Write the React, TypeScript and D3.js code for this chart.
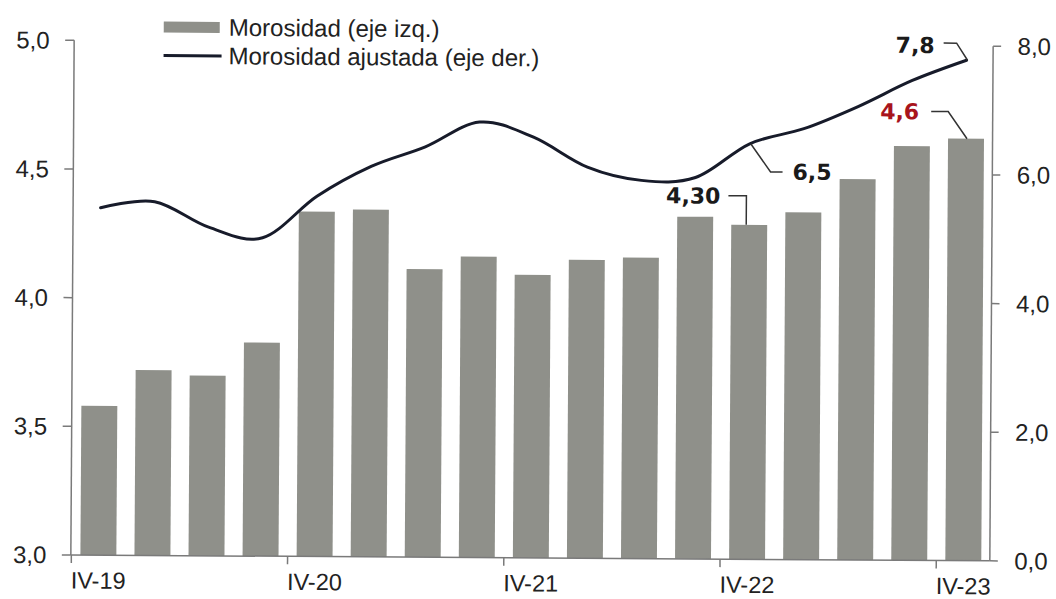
import React from "react";
import * as d3 from "d3";

const categories = ["IV-19","I-20","II-20","III-20","IV-20","I-21","II-21","III-21","IV-21","I-22","II-22","III-22","IV-22","I-23","II-23","III-23","IV-23"];
const shownLabels = ["IV-19","IV-20","IV-21","IV-22","IV-23"];
const morosidad = [3.58,3.72,3.70,3.83,4.34,4.35,4.12,4.17,4.10,4.16,4.17,4.33,4.30,4.35,4.48,4.61,4.64];
const morosidadAjustada = [5.40,5.50,5.11,4.95,5.60,6.07,6.38,6.77,6.54,6.08,5.88,5.93,6.46,6.70,7.05,7.46,7.78];
const leftTicks = [3.0,3.5,4.0,4.5,5.0];
const rightTicks = [0,2,4,6,8];
const legendBar = "Morosidad (eje izq.)";
const legendLine = "Morosidad ajustada (eje der.)";

const W = 1056, H = 599;
const L = 72.5, R = 991.5, T = 43.3, B = 557.9;
const BAR = "#8f908a";
const AXIS = "#7a7a7a";
const LINE = "#171b2a";
const RED = "#a8141c";
const FONT = "'Liberation Sans', Arial, sans-serif";
const BOLD = "'DejaVu Sans', Verdana, sans-serif";

export default function App() {
  const x = d3.scaleBand<string>().domain(categories).range([73, 992]).paddingInner(0.335).paddingOuter(0.1675);
  const xb = d3.scaleBand<string>().domain(categories).range([73, 992]);
  const yL = d3.scaleLinear().domain([3, 5]).range([B, T]);
  const yR = d3.scaleLinear().domain([0, 8]).range([B, T]);
  const cx = (i: number) => (xb(categories[i]) as number) + xb.bandwidth() / 2;
  const fmt = (v: number) => d3.format(".1f")(v).replace(".", ",");

  const line = d3.line<number>()
    .x((_, i) => cx(i))
    .y((d) => yR(d))
    .curve(d3.curveCardinal.tension(0));

  const i13 = 12, i17 = 16;
  const b13x = cx(i13), b13y = yL(morosidad[i13]);
  const l13x = cx(i13), l13y = yR(morosidadAjustada[i13]);
  const l17x = cx(i17), l17y = yR(morosidadAjustada[i17]);
  const b17x = cx(i17), b17y = yL(morosidad[i17]);

  return (
    <svg width={W} height={H} style={{ position: "absolute", left: 0, top: 0, background: "#fff" }}>
      <rect x={0} y={0} width={W} height={H} fill="#fff" />
      <g transform="rotate(0.37 531 300)">
        {morosidad.map((v, i) => (
          <rect key={i} x={x(categories[i])} y={yL(v)} width={x.bandwidth()} height={B - yL(v)} fill={BAR} />
        ))}
        <path d={line(morosidadAjustada) || ""} fill="none" stroke={LINE} strokeWidth={3} strokeLinejoin="round" strokeLinecap="round" />

        <line x1={L} x2={L} y1={T} y2={B} stroke={AXIS} strokeWidth={1.5} />
        {leftTicks.map((t) => (
          <g key={t}>
            <line x1={L - 9} x2={L} y1={yL(t)} y2={yL(t)} stroke={AXIS} strokeWidth={1.5} />
            <text x={48} y={yL(t)} dy="0.35em" textAnchor="end" fontFamily={FONT} fontSize={24} fill="#222">{fmt(t)}</text>
          </g>
        ))}
        <line x1={R} x2={R} y1={T} y2={B} stroke={AXIS} strokeWidth={1.5} />
        {rightTicks.map((t) => (
          <g key={t}>
            <line x1={R} x2={R + 8} y1={yR(t)} y2={yR(t)} stroke={AXIS} strokeWidth={1.5} />
            <text x={1016} y={yR(t)} dy="0.35em" textAnchor="start" fontFamily={FONT} fontSize={24} fill="#222">{fmt(t)}</text>
          </g>
        ))}
        <line x1={L} x2={R} y1={B} y2={B} stroke={AXIS} strokeWidth={1.5} />
        {categories.map((c, i) => shownLabels.includes(c) ? (
          <g key={c}>
            <line x1={xb(c) as number} x2={xb(c) as number} y1={B} y2={B + 8} stroke={AXIS} strokeWidth={1.5} />
            <text x={cx(i)} y={591.5} textAnchor="middle" fontFamily={FONT} fontSize={23.5} fill="#222">{c}</text>
          </g>
        ) : null)}

        <rect x={162} y={24} width={56} height={11} fill={BAR} />
        <text x={227} y={37.8} fontFamily={FONT} fontSize={24} fill="#222">{legendBar}</text>
        <line x1={162} x2={220} y1={58} y2={58} stroke={LINE} strokeWidth={3} />
        <text x={227} y={66.3} fontFamily={FONT} fontSize={24} fill="#222">{legendLine}</text>

        <path d={`M${b13x - 3},${b13y} V${b13y - 29} H${b13x - 21}`} fill="none" stroke="#333" strokeWidth={1.5} />
        <text x={b13x - 29} y={b13y - 21} textAnchor="end" fontFamily={BOLD} fontWeight="bold" fontSize={22} fill="#1a1a1a">{d3.format(".2f")(morosidad[i13]).replace(".", ",")}</text>

        <path d={`M${l13x + 1},${l13y} L${l13x + 21},${l13y + 28} H${l13x + 33}`} fill="none" stroke="#333" strokeWidth={1.5} />
        <text x={l13x + 43} y={l13y + 35.6} textAnchor="start" fontFamily={BOLD} fontWeight="bold" fontSize={22} fill="#1a1a1a">{fmt(6.5)}</text>

        <path d={`M${l17x - 23},${l17y - 17} H${l17x - 10} L${l17x + 1},${l17y}`} fill="none" stroke="#333" strokeWidth={1.5} />
        <text x={l17x - 32} y={l17y - 7} textAnchor="end" fontFamily={BOLD} fontWeight="bold" fontSize={22} fill="#1a1a1a">{fmt(7.8)}</text>

        <path d={`M${b17x - 35},${b17y - 27} H${b17x - 18} L${b17x + 1},${b17y}`} fill="none" stroke="#333" strokeWidth={1.5} />
        <text x={b17x - 47} y={b17y - 19} textAnchor="end" fontFamily={BOLD} fontWeight="bold" fontSize={22} fill={RED}>{fmt(4.6)}</text>
      </g>
    </svg>
  );
}
